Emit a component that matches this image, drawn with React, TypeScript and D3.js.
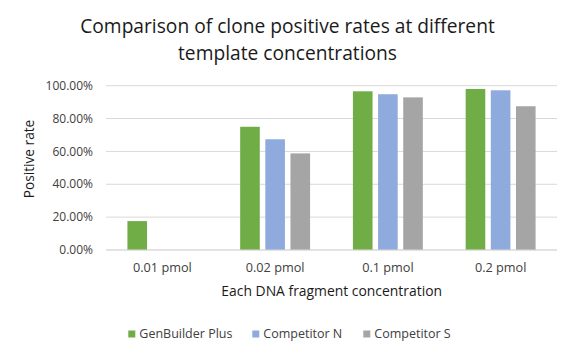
import React from "react";
import * as d3 from "d3";

const categories = ["0.01 pmol", "0.02 pmol", "0.1 pmol", "0.2 pmol"];
const seriesNames = ["GenBuilder Plus", "Competitor N", "Competitor S"];
const genBuilder = [0.176, 0.75, 0.966, 0.98];
const competitorN = [null, 0.674, 0.948, 0.972];
const competitorS = [null, 0.588, 0.929, 0.875];
const yTicks = [0, 0.2, 0.4, 0.6, 0.8, 1.0];
const colors = ["#70AD47", "#8FAADC", "#A5A5A5"];

const W = 572;
const H = 356;
const FONT = "'Open Sans', sans-serif";

export default function App() {
  const series = [genBuilder, competitorN, competitorS];
  const left = 106;
  const right = 557;
  const top = 85.7;
  const bottom = 250;
  const x = d3.scaleBand<string>().domain(categories).range([left, right]).paddingInner(0.38).paddingOuter(0.19);
  const x1 = d3.scaleBand<string>().domain(seriesNames).range([0, x.bandwidth()]).paddingInner(0.22);
  const y = d3.scaleLinear().domain([0, 1]).range([bottom, top]);
  const fmt = (v: number) => (v * 100).toFixed(2) + "%";

  const legendItems = [
    { x: 128.3, name: seriesNames[0] },
    { x: 252.3, name: seriesNames[1] },
    { x: 363.3, name: seriesNames[2] },
  ];

  return (
    <svg width={W} height={H} style={{ position: "absolute", left: 0, top: 0, background: "#fff" }} fontFamily={FONT}>
      <rect x={0} y={0} width={W} height={H} fill="#fff" />
      <text x={287.5} y={33} textAnchor="middle" fontSize={19.2} fill="#1a1a1a">
        Comparison of clone positive rates at different
      </text>
      <text x={287.5} y={59.5} textAnchor="middle" fontSize={19.2} fill="#1a1a1a">
        template concentrations
      </text>
      {yTicks.map((t) => (
        <g key={t}>
          <line x1={left} x2={right} y1={y(t)} y2={y(t)} stroke="#D9D9D9" strokeWidth={1} />
          <text x={93} y={y(t)} dy="0.35em" textAnchor="end" fontSize={12} fill="#404040">
            {fmt(t)}
          </text>
        </g>
      ))}
      {categories.map((c, ci) => (
        <g key={c}>
          {series.map((s, si) => {
            const v = s[ci];
            if (v == null) return null;
            return (
              <rect
                key={si}
                x={(x(c) as number) + (x1(seriesNames[si]) as number)}
                y={y(v)}
                width={x1.bandwidth()}
                height={bottom - y(v)}
                fill={colors[si]}
              />
            );
          })}
          <text x={(x(c) as number) + x.bandwidth() / 2} y={268} dy="0.35em" textAnchor="middle" fontSize={12.7} fill="#404040">
            {c}
          </text>
        </g>
      ))}
      <line x1={left} x2={right} y1={bottom} y2={bottom} stroke="#D9D9D9" strokeWidth={1} />
      <text x={331.7} y={291.5} dy="0.35em" textAnchor="middle" fontSize={13.9} fill="#1a1a1a">
        Each DNA fragment concentration
      </text>
      <text transform="translate(29,159) rotate(-90)" textAnchor="middle" dy="0.35em" fontSize={13.7} fill="#1a1a1a">
        Positive rate
      </text>
      {legendItems.map((li, i) => (
        <g key={li.name}>
          <rect x={li.x} y={330.5} width={7} height={7} fill={colors[i]} />
          <text x={li.x + 11} y={334} dy="0.35em" fontSize={12.5} fill="#404040">
            {li.name}
          </text>
        </g>
      ))}
    </svg>
  );
}
